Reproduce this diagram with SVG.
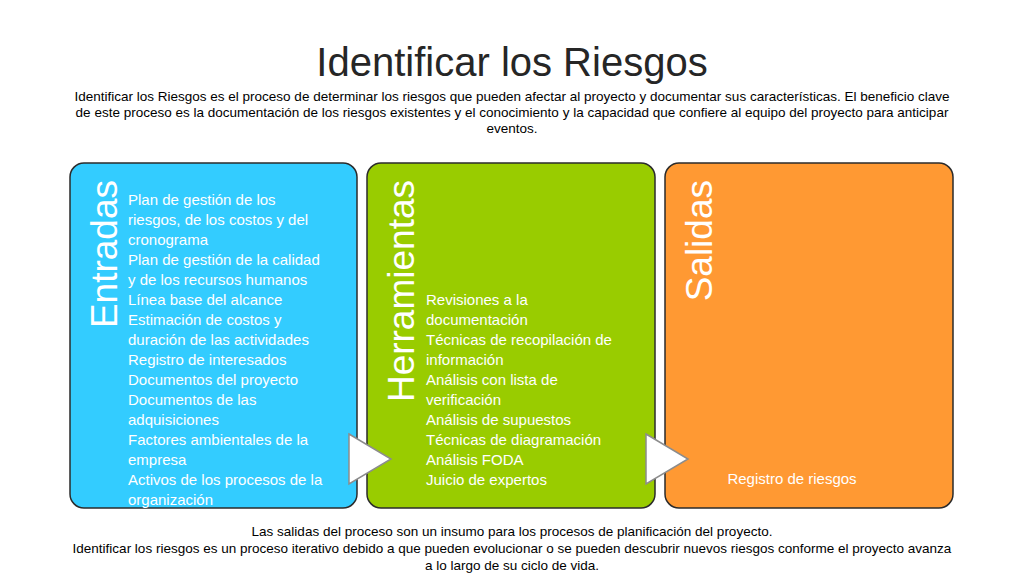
<svg xmlns="http://www.w3.org/2000/svg" width="1024" height="576" viewBox="0 0 1024 576">
<style>
text{font-family:"Liberation Sans",Arial,sans-serif}
.t{font-size:40px;fill:#262626;text-anchor:middle}
.s{font-size:13.5px;fill:#000;text-anchor:middle}
.b{stroke:#2b2b2b;stroke-width:1.5}
.h{font-size:37px;fill:#fff;text-anchor:end}
.i{font-size:15px;fill:#fff}
.ar{fill:#fff;stroke:#8c8c8c;stroke-width:1.5}
</style>
<defs><linearGradient id="ag" x1="0" y1="0" x2="1" y2="0"><stop offset="0" stop-color="#f4f4f4"/><stop offset="1" stop-color="#d8d8d8"/></linearGradient></defs>
<text class="t" x="512" y="76">Identificar los Riesgos</text>
<text class="s" x="512" y="101">Identificar los Riesgos es el proceso de determinar los riesgos que pueden afectar al proyecto y documentar sus características. El beneficio clave</text>
<text class="s" x="512" y="117">de este proceso es la documentación de los riesgos existentes y el conocimiento y la capacidad que confiere al equipo del proyecto para anticipar</text>
<text class="s" x="512" y="133">eventos.</text>
<g id="entradas">
<rect class="b" x="70" y="163" width="287" height="345" rx="14" fill="#33ccff"/>
<text class="h" transform="translate(117,180) rotate(-90)">Entradas</text>
<text class="i" x="128"><tspan x="128" y="205">Plan de gestión de los</tspan><tspan x="128" y="225">riesgos, de los costos y del</tspan><tspan x="128" y="245">cronograma</tspan><tspan x="128" y="265">Plan de gestión de la calidad</tspan><tspan x="128" y="285">y de los recursos humanos</tspan><tspan x="128" y="305">Línea base del alcance</tspan><tspan x="128" y="325">Estimación de costos y</tspan><tspan x="128" y="345">duración de las actividades</tspan><tspan x="128" y="365">Registro de interesados</tspan><tspan x="128" y="385">Documentos del proyecto</tspan><tspan x="128" y="405">Documentos de las</tspan><tspan x="128" y="425">adquisiciones</tspan><tspan x="128" y="445">Factores ambientales de la</tspan><tspan x="128" y="465">empresa</tspan><tspan x="128" y="485">Activos de los procesos de la</tspan><tspan x="128" y="505">organización</tspan></text>
</g>
<g id="herramientas">
<rect class="b" x="367" y="163" width="288" height="345" rx="14" fill="#99cc00"/>
<text class="h" transform="translate(414,180) rotate(-90)">Herramientas</text>
<text class="i"><tspan x="426" y="305">Revisiones a la</tspan><tspan x="426" y="325">documentación</tspan><tspan x="426" y="345">Técnicas de recopilación de</tspan><tspan x="426" y="365">información</tspan><tspan x="426" y="385">Análisis con lista de</tspan><tspan x="426" y="405">verificación</tspan><tspan x="426" y="425">Análisis de supuestos</tspan><tspan x="426" y="445">Técnicas de diagramación</tspan><tspan x="426" y="465">Análisis FODA</tspan><tspan x="426" y="485">Juicio de expertos</tspan></text>
</g>
<g id="salidas">
<rect class="b" x="665" y="163" width="288" height="345" rx="14" fill="#ff9933"/>
<text class="h" transform="translate(712,180) rotate(-90)">Salidas</text>
<text class="i" x="792" y="484" text-anchor="middle">Registro de riesgos</text>
</g>
<g id="connectors">
<polygon class="ar" points="349,434 391,459 349,484" fill="url(#ag)"/>
<polygon class="ar" points="646,434 688,459 646,484" fill="url(#ag)"/>
</g>
<text class="s" x="512" y="536">Las salidas del proceso son un insumo para los procesos de planificación del proyecto.</text>
<text class="s" x="512" y="553">Identificar los riesgos es un proceso iterativo debido a que pueden evolucionar o se pueden descubrir nuevos riesgos conforme el proyecto avanza</text>
<text class="s" x="512" y="570">a lo largo de su ciclo de vida.</text>
</svg>
